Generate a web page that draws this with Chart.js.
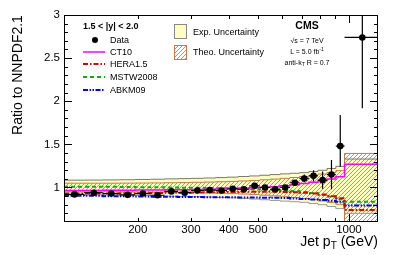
<!DOCTYPE html>
<html lang="en">
<head>
<meta charset="UTF-8">
<title>Ratio to NNPDF2.1</title>
<script src="https://cdn.jsdelivr.net/npm/chart.js"></script>
<style>
    body {
        margin: 0;
        background: #fff;
        font-family: "Liberation Sans", Arial, sans-serif;
    }
    .wrap {
        position: relative;
        width: 399px;
        height: 255px;
    }
    .t {
        position: absolute;
        white-space: nowrap;
        line-height: 1;
        color: #000;
        transform: translateY(-50%);
    }
    .c { transform: translate(-50%, -50%); }
    .leg { font-size: 9px; }
    .small { font-size: 7px; }
    .sb { line-height: 0; vertical-align: -0.3em; }
    .sp { line-height: 0; vertical-align: 0.5em; }
    svg { position: absolute; left: 0; top: 0; pointer-events: none; }
</style>
</head>
<body>
<div class="wrap">
    <canvas id="ratioChart" width="399" height="255"></canvas>

    <svg width="399" height="255">
        <defs>
            <pattern id="hatch" width="4" height="4" patternUnits="userSpaceOnUse">
                <path d="M0,4 L4,0 M-1,1 L1,-1 M3,5 L5,3" stroke="#d2905a" stroke-width="1"/>
            </pattern>
        </defs>
        <circle cx="95" cy="40" r="3" fill="#000"/>
        <line x1="83" y1="52" x2="105" y2="52" stroke="#ff00ff" stroke-width="1.5"/>
        <line x1="83" y1="64" x2="105" y2="64" stroke="#dd0000" stroke-width="2" stroke-dasharray="5,2,1.5,2"/>
        <line x1="83" y1="77" x2="105" y2="77" stroke="#11aa11" stroke-width="2" stroke-dasharray="4,3"/>
        <line x1="83" y1="90" x2="105" y2="90" stroke="#0000ff" stroke-width="2" stroke-dasharray="5,1.5,1.5,1.5,1.5,1.5"/>
        <rect x="174.5" y="24.5" width="12" height="14" fill="#ffffc4" stroke="#888"/>
        <rect x="174.5" y="45.5" width="12" height="14" fill="url(#hatch)" stroke="#c47a4a"/>
    </svg>

    <div class="t c" style="left:17px; top:75px; font-size:14px; transform:translate(-50%,-50%) rotate(-90deg);">Ratio to NNPDF2.1</div>
    <div class="t" style="right:21px; top:241px; font-size:14px;">Jet p<span class="sb" style="font-size:10px;">T</span> (GeV)</div>

    <div class="t leg" style="left:83px; top:26px; font-weight:bold;">1.5 &lt; |y| &lt; 2.0</div>
    <div class="t leg" style="left:110px; top:40px;">Data</div>
    <div class="t leg" style="left:110px; top:52px;">CT10</div>
    <div class="t leg" style="left:110px; top:64px;">HERA1.5</div>
    <div class="t leg" style="left:110px; top:77px;">MSTW2008</div>
    <div class="t leg" style="left:110px; top:90px;">ABKM09</div>

    <div class="t leg" style="left:193px; top:32px;">Exp. Uncertainty</div>
    <div class="t leg" style="left:193px; top:52px;">Theo. Uncertainty</div>

    <div class="t c" style="left:307px; top:25px; font-size:10.5px; font-weight:bold;">CMS</div>
    <div class="t c small" style="left:307px; top:40px;">&radic;s = 7 TeV</div>
    <div class="t c small" style="left:307px; top:51px;">L = 5.0 fb<span class="sp" style="font-size:5px;">-1</span></div>
    <div class="t c small" style="left:307px; top:62px;">anti-k<span class="sb" style="font-size:5px;">T</span> R = 0.7</div>
</div>

<script>
    // pT bin edges (GeV)
    const binEdges = [114, 133, 153, 174, 196, 220, 245, 272, 300, 330, 362, 395, 430, 468,
        507, 548, 592, 638, 686, 737, 790, 846, 905, 967, 1248];

    const dataRatio = [0.92, 0.94, 0.93, 0.915, 0.93, 0.91, 0.955, 0.94, 0.965, 0.97, 0.965, 0.985,
        0.98, 1.02, 1.0, 0.98, 1.0, 1.055, 1.105, 1.135, 1.085, 1.15, 1.48, 2.74];
    const dataErrUp = [0.008, 0.008, 0.008, 0.008, 0.008, 0.009, 0.009, 0.01, 0.01, 0.01, 0.011, 0.012,
        0.013, 0.015, 0.017, 0.02, 0.024, 0.03, 0.045, 0.065, 0.1, 0.17, 0.36, 0.6];
    const dataErrDown = [0.008, 0.008, 0.008, 0.008, 0.008, 0.009, 0.009, 0.01, 0.01, 0.01, 0.011, 0.012,
        0.013, 0.015, 0.017, 0.02, 0.024, 0.03, 0.045, 0.065, 0.1, 0.17, 0.24, 0.82];

    const ct10 = [0.965, 0.966, 0.967, 0.968, 0.97, 0.971, 0.973, 0.975, 0.977, 0.98, 0.983, 0.987,
        0.991, 0.996, 1.002, 1.01, 1.02, 1.032, 1.046, 1.062, 1.08, 1.1, 1.125, 1.27];
    const hera15 = [0.93, 0.93, 0.93, 0.932, 0.934, 0.936, 0.938, 0.94, 0.942, 0.944, 0.946, 0.948,
        0.95, 0.95, 0.95, 0.95, 0.948, 0.945, 0.94, 0.93, 0.915, 0.9, 0.875, 0.74];
    const mstw2008 = [1.01, 1.01, 1.008, 1.006, 1.004, 1.002, 1.0, 0.998, 0.996, 0.994, 0.991, 0.988,
        0.985, 0.981, 0.977, 0.972, 0.966, 0.958, 0.948, 0.935, 0.918, 0.895, 0.865, 0.835];
    const abkm09 = [0.905, 0.903, 0.9, 0.898, 0.896, 0.894, 0.892, 0.89, 0.889, 0.888, 0.887, 0.886,
        0.885, 0.884, 0.882, 0.88, 0.877, 0.873, 0.868, 0.862, 0.855, 0.846, 0.835, 0.79];

    const expUp = [1.085, 1.086, 1.088, 1.09, 1.093, 1.096, 1.1, 1.103, 1.106, 1.11, 1.115, 1.12,
        1.127, 1.134, 1.142, 1.15, 1.158, 1.165, 1.172, 1.185, 1.2, 1.22, 1.245, 1.33];
    const expDown = [0.915, 0.914, 0.912, 0.91, 0.907, 0.904, 0.9, 0.897, 0.894, 0.89, 0.885, 0.88,
        0.873, 0.866, 0.858, 0.85, 0.842, 0.835, 0.828, 0.815, 0.8, 0.78, 0.755, 0.7];
    const theoUp = [1.05, 1.05, 1.05, 1.051, 1.052, 1.053, 1.055, 1.057, 1.06, 1.063, 1.067, 1.071,
        1.076, 1.082, 1.089, 1.097, 1.106, 1.116, 1.128, 1.141, 1.156, 1.173, 1.195, 1.395];
    const theoDown = [0.95, 0.95, 0.95, 0.949, 0.948, 0.947, 0.945, 0.943, 0.94, 0.937, 0.933, 0.929,
        0.924, 0.918, 0.911, 0.903, 0.894, 0.884, 0.872, 0.859, 0.844, 0.827, 0.805, 0.5];

    const yTickLabels = [1, 1.5, 2, 2.5, 3];
    const xTickLabels = [200, 300, 400, 500, 1000];
    const xMinorTicks = [600, 700, 800, 900];

    // histogram style: one point per bin edge, last value repeated at the upper edge
    function stepPoints(vals) {
        return binEdges.map((e, i) => ({ x: e, y: vals[Math.min(i, vals.length - 1)] }));
    }

    const centers = dataRatio.map((v, i) => (binEdges[i] + binEdges[i + 1]) / 2);

    function hatchPattern(color) {
        const c = document.createElement('canvas');
        c.width = 4;
        c.height = 4;
        const g = c.getContext('2d');
        g.strokeStyle = color;
        g.lineWidth = 1;
        g.beginPath();
        g.moveTo(0, 4); g.lineTo(4, 0);
        g.moveTo(-1, 1); g.lineTo(1, -1);
        g.moveTo(3, 5); g.lineTo(5, 3);
        g.stroke();
        return g.createPattern(c, 'repeat');
    }

    const line = (data, color, width, dash) => ({
        data: data,
        borderColor: color,
        borderWidth: width,
        borderDash: dash,
        stepped: true,
        pointRadius: 0,
        fill: false
    });

    // frame and inward ticks, ROOT style
    const frameTicks = {
        id: 'frameTicks',
        afterDraw(chart) {
            const { ctx, chartArea: a, scales: { x, y } } = chart;
            ctx.save();
            ctx.strokeStyle = '#000';
            ctx.lineWidth = 1;
            ctx.strokeRect(a.left + 0.5, a.top + 0.5, a.right - a.left - 1, a.bottom - a.top - 1);
            ctx.beginPath();
            for (let k = 7; k <= 29; k++) {
                const v = k / 10;
                const py = Math.round(y.getPixelForValue(v)) + 0.5;
                const len = yTickLabels.includes(v) ? 8 : 4;
                ctx.moveTo(a.left, py); ctx.lineTo(a.left + len, py);
                ctx.moveTo(a.right, py); ctx.lineTo(a.right - len, py);
            }
            xTickLabels.concat(xMinorTicks).forEach(v => {
                const px = Math.round(x.getPixelForValue(v)) + 0.5;
                const len = v === 1000 ? 8 : 4;
                ctx.moveTo(px, a.bottom); ctx.lineTo(px, a.bottom - len);
                ctx.moveTo(px, a.top); ctx.lineTo(px, a.top + len);
            });
            ctx.stroke();
            ctx.restore();
        }
    };

    const tickFont = { family: '"Liberation Sans", Arial, sans-serif', size: 11.5 };

    new Chart(document.getElementById('ratioChart'), {
        type: 'line',
        data: {
            datasets: [
                {
                    data: dataRatio.map((v, i) => ({ x: centers[i], y: v })),
                    showLine: false,
                    pointRadius: 3.3,
                    pointBackgroundColor: '#000',
                    pointBorderWidth: 0
                },
                {
                    data: dataRatio.flatMap((v, i) => [
                        { x: centers[i], y: v - dataErrDown[i] },
                        { x: centers[i], y: v + dataErrUp[i] },
                        { x: centers[i], y: null }
                    ]),
                    borderColor: '#000',
                    borderWidth: 1.2,
                    pointRadius: 0,
                    fill: false
                },
                {
                    data: dataRatio.flatMap((v, i) => [
                        { x: binEdges[i], y: v },
                        { x: binEdges[i + 1], y: v },
                        { x: binEdges[i + 1], y: null }
                    ]),
                    borderColor: '#000',
                    borderWidth: 1.2,
                    pointRadius: 0,
                    fill: false
                },
                line(stepPoints(ct10), '#ff00ff', 1.5, []),
                line(stepPoints(hera15), '#dd0000', 2, [5, 2, 1.5, 2]),
                line(stepPoints(mstw2008), '#11aa11', 2, [4, 3]),
                line(stepPoints(abkm09), '#0000ff', 2, [5, 1.5, 1.5, 1.5, 1.5, 1.5]),
                Object.assign(line(stepPoints(theoUp), '#c47a4a', 1, []), {
                    fill: '+1',
                    backgroundColor: hatchPattern('#d2905a')
                }),
                line(stepPoints(theoDown), '#c47a4a', 1, []),
                Object.assign(line(stepPoints(expUp), '#777', 1, []), {
                    fill: '+1',
                    backgroundColor: '#ffffc4'
                }),
                line(stepPoints(expDown), '#999', 1, [])
            ]
        },
        options: {
            responsive: false,
            devicePixelRatio: 1,
            animation: false,
            layout: { padding: { top: 15, right: 21, left: 0, bottom: 0 } },
            plugins: {
                legend: { display: false },
                tooltip: { enabled: false },
                filler: { drawTime: 'beforeDatasetsDraw' }
            },
            scales: {
                x: {
                    type: 'logarithmic',
                    min: 114,
                    max: 1248,
                    grid: { display: false, drawTicks: false },
                    border: { display: false },
                    ticks: {
                        color: '#000',
                        font: tickFont,
                        padding: 1,
                        autoSkip: false,
                        maxRotation: 0,
                        callback: v => String(v)
                    },
                    afterBuildTicks: s => { s.ticks = xTickLabels.map(v => ({ value: v })); },
                    afterFit: s => { s.height = 33; }
                },
                y: {
                    min: 0.6,
                    max: 3,
                    grid: { display: false, drawTicks: false },
                    border: { display: false },
                    ticks: {
                        color: '#000',
                        font: tickFont,
                        padding: 4,
                        callback: v => String(v)
                    },
                    afterBuildTicks: s => { s.ticks = yTickLabels.map(v => ({ value: v })); },
                    afterFit: s => { s.width = 64; }
                }
            }
        },
        plugins: [frameTicks]
    });
</script>
</body>
</html>
